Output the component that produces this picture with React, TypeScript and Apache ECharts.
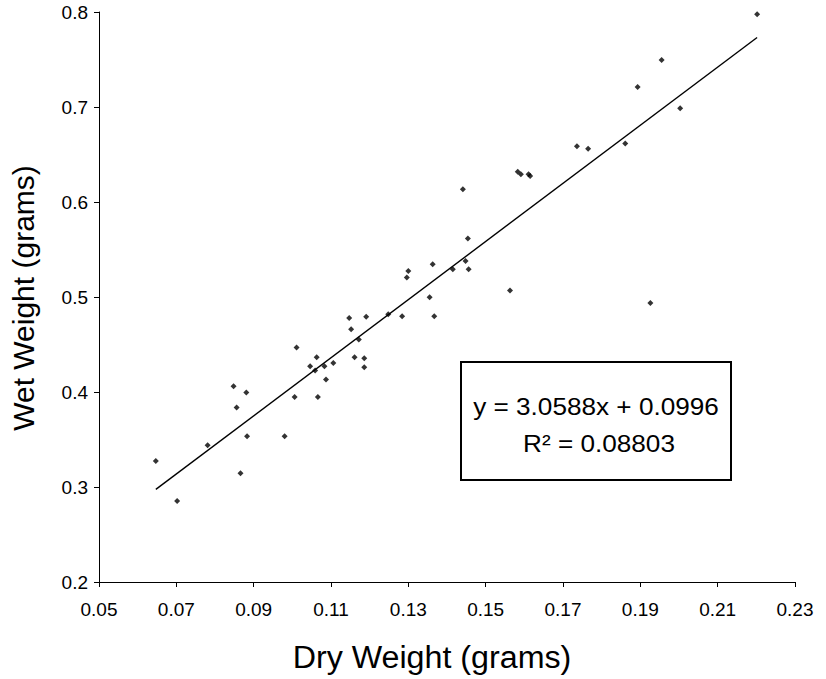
import React, { useEffect, useRef } from "react";
import * as echarts from "echarts";

const dryWeight = [
  0.0647, 0.0702, 0.0781, 0.0848, 0.0856, 0.0881, 0.0883, 0.0866, 0.098, 0.1006,
  0.1011, 0.1046, 0.1063, 0.1059, 0.1066, 0.1083, 0.1087, 0.1106, 0.1147, 0.1152,
  0.1161, 0.1172, 0.1186, 0.1186, 0.1191, 0.1248, 0.1284, 0.1296, 0.13, 0.1355,
  0.1367, 0.1363, 0.1415, 0.1448, 0.1456, 0.1454, 0.1441, 0.1563, 0.1583, 0.1591,
  0.1611, 0.1615, 0.1736, 0.1765, 0.1861, 0.1893, 0.1926, 0.1955, 0.2003, 0.2202,
];
const wetWeight = [
  0.3274, 0.2853, 0.344, 0.4061, 0.3837, 0.3995, 0.3535, 0.3145, 0.3535, 0.3948,
  0.4469, 0.4272, 0.4367, 0.4226, 0.3948, 0.4272, 0.4132, 0.4306, 0.478, 0.4661,
  0.4367, 0.4553, 0.4356, 0.4261, 0.4791, 0.4819, 0.4798, 0.5206, 0.5275, 0.4998,
  0.4798, 0.5346, 0.5293, 0.5378, 0.5293, 0.5617, 0.6133, 0.5069, 0.6318, 0.6291,
  0.6291, 0.6273, 0.6586, 0.656, 0.6617, 0.721, 0.4938, 0.7494, 0.6986, 0.7976,
];
const xTicks = [0.05, 0.07, 0.09, 0.11, 0.13, 0.15, 0.17, 0.19, 0.21, 0.23];
const yTicks = [0.2, 0.3, 0.4, 0.5, 0.6, 0.7, 0.8];
const trendSlope = 3.0588;
const trendIntercept = 0.0996;
const rSquared = "0.08803";
const xTitle = "Dry Weight (grams)";
const yTitle = "Wet Weight (grams)";

export default function App() {
  const ref = useRef<HTMLDivElement>(null);
  useEffect(() => {
    document.body.style.margin = "0";
    if (!ref.current) return;
    const chart = echarts.init(ref.current, null, { renderer: "svg" });
    const points = dryWeight.map((x, i) => [x, wetWeight[i]]);
    const xMin = Math.min(...dryWeight);
    const xMax = Math.max(...dryWeight);
    const trend = [
      [xMin, trendSlope * xMin + trendIntercept],
      [xMax, trendSlope * xMax + trendIntercept],
    ];
    const font = "'Liberation Sans', Arial, Helvetica, sans-serif";
    chart.setOption({
      animation: false,
      backgroundColor: "#ffffff",
      grid: { left: 99, right: 31, top: 12, bottom: 97, containLabel: false },
      xAxis: {
        type: "value",
        min: xTicks[0],
        max: xTicks[xTicks.length - 1],
        axisLine: { show: true, lineStyle: { color: "#000", width: 1 } },
        axisTick: { show: true, length: 5, customValues: xTicks, lineStyle: { color: "#000" } },
        axisLabel: {
          customValues: xTicks,
          margin: 18,
          color: "#000",
          fontSize: 19,
          fontFamily: font,
          formatter: (v: number) => v.toFixed(2),
        },
        splitLine: { show: false },
      },
      yAxis: {
        type: "value",
        min: yTicks[0],
        max: yTicks[yTicks.length - 1],
        axisLine: { show: true, lineStyle: { color: "#000", width: 1 } },
        axisTick: { show: true, length: 5, customValues: yTicks, lineStyle: { color: "#000" } },
        axisLabel: {
          customValues: yTicks,
          margin: 11,
          color: "#000",
          fontSize: 19,
          fontFamily: font,
          formatter: (v: number) => v.toFixed(1),
        },
        splitLine: { show: false },
      },
      series: [
        {
          type: "scatter",
          data: points,
          symbol: "diamond",
          symbolSize: 6,
          itemStyle: { color: "#000" },
        },
        {
          type: "line",
          data: trend,
          showSymbol: false,
          lineStyle: { color: "#000", width: 1.4 },
        },
      ],
      graphic: [
        {
          type: "text",
          x: 432,
          y: 657,
          scaleX: 1.04,
          style: {
            text: xTitle,
            font: `31px ${font}`,
            fill: "#000",
            textAlign: "center",
            textVerticalAlign: "middle",
          },
        },
        {
          type: "text",
          x: 23,
          y: 298,
          rotation: Math.PI / 2,
          style: {
            text: yTitle,
            font: `30px ${font}`,
            fill: "#000",
            textAlign: "center",
            textVerticalAlign: "middle",
          },
        },
        {
          type: "rect",
          shape: { x: 461, y: 362, width: 270, height: 118 },
          style: { fill: "#fff", stroke: "#000", lineWidth: 2 },
        },
        {
          type: "text",
          x: 596,
          y: 406,
          scaleX: 1.09,
          style: {
            text: `y = ${trendSlope}x + ${trendIntercept}`,
            font: `24px ${font}`,
            fill: "#000",
            textAlign: "center",
            textVerticalAlign: "middle",
          },
        },
        {
          type: "text",
          x: 599,
          y: 443,
          scaleX: 1.09,
          style: {
            text: `R² = ${rSquared}`,
            font: `24px ${font}`,
            fill: "#000",
            textAlign: "center",
            textVerticalAlign: "middle",
          },
        },
      ],
    });
    return () => chart.dispose();
  }, []);
  return <div ref={ref} style={{ width: 826, height: 679 }} />;
}
